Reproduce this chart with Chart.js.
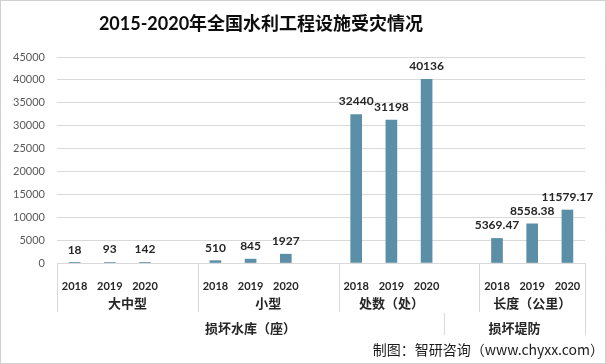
<!DOCTYPE html>
<html><head><meta charset="utf-8">
<script src="https://cdn.jsdelivr.net/npm/chart.js@4/dist/chart.umd.min.js"></script>
<style>html,body{margin:0;padding:0;background:#fff;overflow:hidden}#wrap{width:606px;height:364px;position:relative}</style>
</head><body><div id="wrap"><canvas id="c" width="606" height="364"></canvas></div>
<script>
const titleText = '2015-2020年全国水利工程设施受灾情况';
const footerText = '制图：智研咨询（www.chyxx.com）';
const categories = ['2018','2019','2020','','2018','2019','2020','','2018','2019','2020','','2018','2019','2020'];
const values = [18,93,142,null,510,845,1927,null,32440,31198,40136,null,5369.47,8558.38,11579.17];
const valueLabels = ['18','93','142','','510','845','1927','','32440','31198','40136','','5369.47','8558.38','11579.17'];
const groupLabels = ['大中型','小型','处数（处）','长度（公里）'];
const groupSpans = [[0,3],[4,7],[8,10],[12,14]];
const topLabels = ['损坏水库（座）','损坏堤防'];
const topSpans = [[0,10],[11,14]];
const yTicks = [0,5000,10000,15000,20000,25000,30000,35000,40000,45000];

const FONT = "Lato, 'Noto Sans CJK SC', sans-serif";
const CJK = "'Noto Sans CJK SC', Lato, sans-serif";

const deco = {
  id:'deco',
  beforeDraw(chart){
    const ctx = chart.ctx;
    ctx.save();
    ctx.fillStyle='#fff';
    ctx.fillRect(0,0,chart.width,chart.height);
    ctx.restore();
  },
  afterDraw(chart){
    const ctx = chart.ctx, x = chart.scales.x, ca = chart.chartArea;
    const step = x.getPixelForValue(1) - x.getPixelForValue(0);
    const edge = i => x.getPixelForValue(i) - step/2;
    const mid = (a,b) => (x.getPixelForValue(a)+x.getPixelForValue(b))/2;
    ctx.save();
    // data labels
    const meta = chart.getDatasetMeta(0);
    ctx.font = "bold 12px " + FONT;
    ctx.fillStyle = '#262626';
    ctx.textAlign='center'; ctx.textBaseline='middle';
    values.forEach((v,i)=>{
      if(v===null) return;
      const el = meta.data[i];
      let tx = el.x;
      const w = ctx.measureText(valueLabels[i]).width;
      if (tx + w/2 > chart.width - 3) tx = chart.width - 3 - w/2;
      ctx.fillText(valueLabels[i], tx, el.y - 13);
    });
    // separators
    ctx.strokeStyle='#d9d9d9'; ctx.lineWidth=1;
    const vline=(px,y0,y1)=>{ctx.beginPath();ctx.moveTo(Math.round(px)+0.5,y0);ctx.lineTo(Math.round(px)+0.5,y1);ctx.stroke();};
    const b = ca.bottom;
    vline(edge(0), b, b+49);
    [4,8,12].forEach(i=>vline(edge(i), b, b+49));
    vline(edge(11), b+50, b+72);
    vline(edge(15), b, b+72);
    // group labels
    ctx.font = "bold 13px " + CJK;
    ctx.fillStyle = '#262626';
    groupLabels.forEach((t,i)=>ctx.fillText(t, mid(groupSpans[i][0],groupSpans[i][1]), b+40));
    topLabels.forEach((t,i)=>ctx.fillText(t, mid(topSpans[i][0],topSpans[i][1]), b+65));
    // title
    ctx.font = "bold 18px " + FONT;
    ctx.fillStyle = '#0d0d0d';
    ctx.fillText(titleText, 261, 24);
    // footer
    ctx.font = "14px " + CJK;
    ctx.textAlign='right';
    ctx.fillStyle='#1a1a1a';
    ctx.fillText(footerText, 604, 350);
    // border
    ctx.setLineDash([1,1]);
    ctx.strokeStyle='#a0a0a0';
    ctx.strokeRect(0.5,0.5,chart.width-1,chart.height-1);
    ctx.restore();
  }
};

new Chart(document.getElementById('c'), {
  type:'bar',
  data:{labels:categories, datasets:[{data:values, backgroundColor:'#5B8FA7', barThickness:11}]},
  options:{
    responsive:false, animation:false, devicePixelRatio:1,
    layout:{padding:{left:0,right:21,top:57,bottom:0}},
    plugins:{legend:{display:false}, tooltip:{enabled:false}, title:{display:false}},
    scales:{
      y:{min:0,max:45000,
        afterBuildTicks:s=>{s.ticks=yTicks.map(v=>({value:v}));},
        grid:{color:'#d9d9d9',drawTicks:false},
        border:{display:false},
        ticks:{padding:12,color:'#595959',font:{size:11,family:FONT},callback:v=>String(v)},
        afterFit:s=>{s.width=57;}
      },
      x:{
        grid:{display:false},
        border:{display:true,color:'#d9d9d9'},
        ticks:{padding:9,color:'#262626',font:{size:11,weight:'bold',family:FONT},maxRotation:0,autoSkip:false},
        afterFit:s=>{s.height=101;}
      }
    }
  },
  plugins:[deco]
});
</script></body></html>
